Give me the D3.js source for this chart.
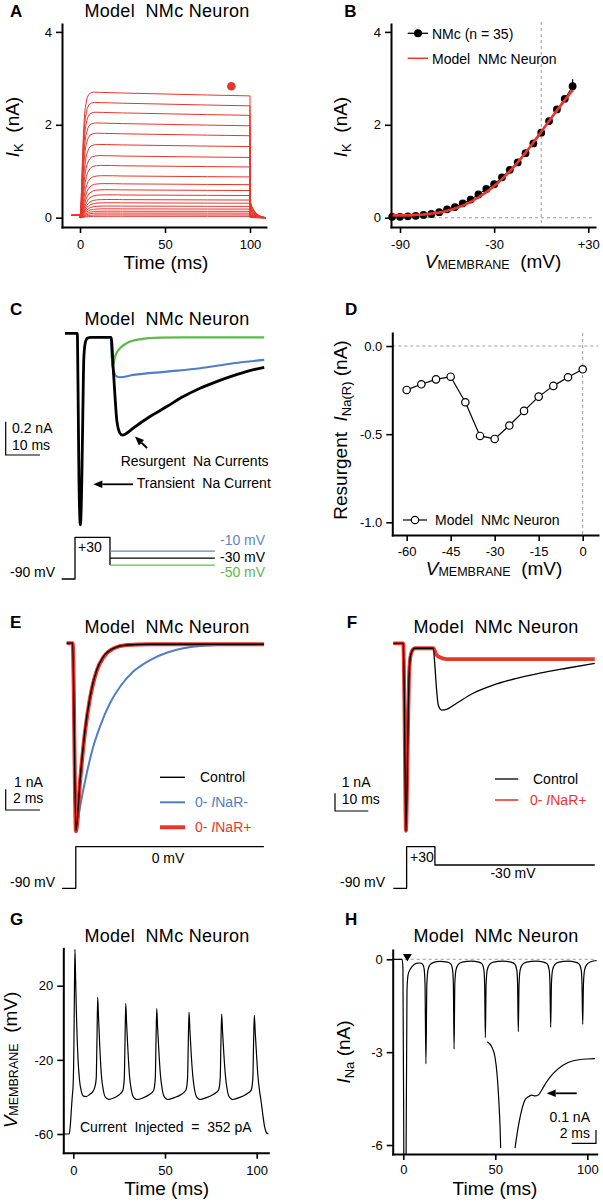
<!DOCTYPE html>
<html><head><meta charset="utf-8">
<script src="https://cdn.jsdelivr.net/npm/d3@7"></script>
<style>
body{margin:0;background:#fff}
svg{display:block;font-family:"Liberation Sans",Arial,Helvetica,sans-serif}
text{white-space:pre}
</style></head><body>
<svg id="fig" width="603" height="1202"></svg>
<script>
// ================= DATA =================
// Panel A : K+ current family (model)
const aTraceAmps = [2.69, 2.47, 2.26, 2.03, 1.81, 1.57, 1.33, 1.12, 0.90, 0.73, 0.60, 0.49, 0.39, 0.32, 0.25, 0.19, 0.14, 0.10, 0.06, 0.03];
const aTraceRise = [1.0, 1.05, 1.1, 1.15, 1.2, 1.3, 1.4, 1.5, 1.6, 1.7, 1.8, 1.9, 1.95, 2, 2, 2, 2, 2, 2, 2];
const aHoldTime = [-5, 0];
const aHoldCurrent = 0.05;
const aRiseTime  = [0, 0.5, 1, 1.5, 2, 2.5, 3, 4, 5, 6.5, 8, 12, 25, 50, 75, 100];
const aRiseShape = [0, 0.08, 0.28, 0.50, 0.67, 0.79, 0.87, 0.95, 0.985, 1.0, 1.005, 1.003, 0.998, 0.99, 0.982, 0.975];
const aTailTime  = [100, 100.4, 101, 102, 103.5, 105, 107, 109.4];
const aTailShape = [0.14, 0.12, 0.095, 0.065, 0.038, 0.02, 0.007, 0.0];
const aDotTime = [89], aDotCurrent = [2.83];
const aXTicks = [0, 50, 100], aYTicks = [0, 2, 4];

// Panel B : I-V
const bDataV = [-95,-90,-85,-80,-75,-70,-65,-60,-55,-50,-45,-40,-35,-30,-25,-20,-15,-10,-5,0,5,10,15,20];
const bDataI = [0.02,0.02,0.03,0.04,0.06,0.08,0.12,0.18,0.23,0.31,0.39,0.50,0.62,0.72,0.87,1.03,1.19,1.39,1.60,1.83,2.08,2.33,2.56,2.83];
const bErrV = [20], bErrLo = [2.70], bErrHi = [2.98];
const bModelV = [-95,-90,-85,-80,-75,-70,-65,-60,-55,-50,-45,-40,-35,-30,-25,-20,-15,-10,-5,0,5,10,15,20];
const bModelI = [0.05,0.05,0.05,0.06,0.07,0.09,0.11,0.15,0.20,0.26,0.34,0.44,0.55,0.68,0.83,1.00,1.19,1.40,1.62,1.85,2.08,2.31,2.53,2.75];
const bXTicks = [-90, -30, 30], bXTickLabels = ['-90', '-30', '+30'];
const bYTicks = [0, 2, 4];

// Panel C : resurgent Na currents
const cBlackT = [-3.6, 0, 0.2, 0.5, 0.9, 1.3, 1.6, 1.9, 2.3, 2.9, 4, 9.85, 10.5, 11.0, 11.5, 12.45, 13.2, 14.4, 16.3, 21.2, 26.1, 30.9, 35.8, 40.6, 45.5, 50.3, 54.5];
const cBlackI = [0, 0, -0.3, -0.9, -1.15, -0.9, -0.5, -0.15, -0.06, -0.03, -0.024, -0.024, -0.22, -0.38, -0.52, -0.60, -0.612, -0.60, -0.57, -0.50, -0.44, -0.38, -0.33, -0.29, -0.254, -0.224, -0.204];
const cGreenT = [9.85, 10.3, 11.0, 12.45, 14.4, 18.3, 24.1, 30.9, 54.5];
const cGreenI = [-0.024, -0.20, -0.14, -0.09, -0.06, -0.036, -0.026, -0.024, -0.024];
const cBlueT = [9.85, 10.3, 11.5, 12.45, 16.3, 26.1, 35.8, 45.5, 54.5];
const cBlueI = [-0.024, -0.20, -0.26, -0.264, -0.25, -0.23, -0.21, -0.18, -0.16];
const cProtoT = [-4.55, -0.67, -0.67, 9.53, 9.53];
const cProtoV = [-90, -90, 30, 30, -50];
const cStepEnd = 40.1;
const cStepLevels = [-10, -30, -50];
const cStepLabels = ['-10 mV', '-30 mV', '-50 mV'];

// Panel D : resurgent current vs voltage
const dV = [-60,-55,-50,-45,-40,-35,-30,-25,-20,-15,-10,-5,0];
const dI = [-0.249,-0.217,-0.189,-0.174,-0.319,-0.510,-0.527,-0.451,-0.368,-0.287,-0.226,-0.177,-0.132];
const dXTicks = [-60,-45,-30,-15,0];
const dYTicks = [0,-0.5,-1.0], dYTickLabels = ['0.0','-0.5','-1.0'];

// Panel E : transient currents at 0 mV
const eCtrlT = [-0.35, 0, 0.19, 0.43, 0.72, 1.01, 1.40, 1.79, 2.37, 3.15, 4.5, 11.15];
const eCtrlI = [0.05, 0.05, -8.88, -6.46, -4.08, -2.50, -1.22, -0.59, -0.19, -0.03, 0, 0];
const ePlusI = [0.05, 0.05, -8.90, -6.52, -4.15, -2.56, -1.26, -0.62, -0.20, -0.035, 0, 0];
const eMinusT = [-0.35, 0, 0.19, 0.43, 0.82, 1.20, 1.59, 2.17, 2.76, 3.53, 4.51, 5.48, 6.45, 7.42, 8.40, 11.17];
const eMinusI = [0.05, 0.05, -8.88, -7.73, -6.14, -4.87, -3.92, -2.81, -2.02, -1.30, -0.75, -0.40, -0.19, -0.08, -0.03, 0];
const eProtoT = [-0.62, 0.18, 0.18, 11.15];
const eProtoV = [-90, -90, 0, 0];

// Panel F : resurgent protocol, control vs 0-INaR+
const fCtrlT = [-3, 0, 0.3, 0.8, 1.3, 1.7, 2.1, 2.7, 3.5, 9.0, 9.5, 10.0, 10.5, 11.5, 13.0, 16.0, 21.0, 27.0, 34.0, 41.0, 49.0, 57.5];
const fCtrlI = [0, 0, -3, -10.6, -6, -2, -0.8, -0.4, -0.28, -0.28, -1.32, -2.64, -3.49, -3.77, -3.73, -3.39, -2.82, -2.36, -1.98, -1.69, -1.41, -1.13];
const fPlusT = [-3, 0, 0.3, 0.8, 1.3, 1.7, 2.1, 2.7, 3.5, 9.0, 10.0, 11.0, 13.0, 57.5];
const fPlusI = [0, 0, -3, -10.6, -6, -2, -0.8, -0.4, -0.28, -0.28, -0.66, -0.79, -0.89, -0.89];
const fProtoT = [-3, 1.0, 1.0, 9.5, 9.5, 57.5];
const fProtoV = [-90, -90, 30, 30, -30, -30];

// Panel G : repetitive firing
const gTime = [-5.5,-2.2,-1.6,-1.0,-0.5,-0.1,0.3,0.6,0.9,1.3,1.9,2.6,3.4,4.4,5.6,7,9,10.7,11.8,12.5,
  12.9,13.3,13.8,14.5,15.3,16.3,17.6,19.3,22,25,27,27.8,
  28.2,28.6,29.1,29.8,30.6,31.6,32.9,34.6,38,41.5,43.8,44.7,
  45.1,45.5,46.0,46.7,47.5,48.5,49.8,51.5,55,59,61.4,62.3,
  62.7,63.1,63.6,64.3,65.1,66.1,67.4,69.1,72.5,76.5,79.2,80.1,
  80.5,80.9,81.4,82.1,82.9,83.9,85.2,86.9,90.3,94.3,97,97.9,
  98.3,98.7,99.2,99.9,100.7,101.6,102.5,103.4,104.3,105.3,106.3];
const gVolt = [-60,-60,-55,-46,-39,-34,-15,15,39.6,22,-2,-20,-31,-37,-39.6,-39.8,-38.6,-37,-34.5,-30,
  -10,13.7,2,-14,-28,-36,-40.3,-41.3,-40.6,-38.8,-36.5,-30,
  -10,10.5,-1,-15,-28,-36,-40.3,-41.4,-40.5,-38.7,-36.5,-30,
  -10,7.6,-3,-16,-28,-36,-40.3,-41.4,-40.4,-38.5,-36.3,-30,
  -11,5.8,-4,-17,-28,-36,-40.3,-41.4,-40.4,-38.5,-36.3,-30,
  -11,4.7,-5,-17,-28,-36,-40.3,-41.4,-40.4,-38.5,-36.3,-30,
  -11,4.0,-5,-17,-29,-37,-43,-50,-56,-59.3,-60];
const gXTicks = [0, 50, 100], gYTicks = [20, -20, -60];

// Panel H : Na current during firing
const hTime = [-5.7,-0.6,-0.2,0.4,0.9,1.4,2.0,2.6,3.5,5,7,9,10.5,11.3,11.8,12.3,12.8,13.4,14.5,16.5,20,24,
  25.8,26.8,27.2,27.6,28.0,28.6,29.8,32,37,41,
  42.8,43.8,44.2,44.6,45.0,45.6,46.8,49,54,58.5,
  60.5,61.7,62.1,62.5,62.9,63.5,64.7,67,72,76.3,
  78.2,79.3,79.7,80.1,80.5,81.1,82.3,84.5,89.5,93.5,
  95.5,96.7,97.1,97.5,97.9,98.5,99.7,102,105.1];
const hCurrent = [0,0,-0.3,-8,-12,-8,-1.0,-0.5,-0.35,-0.22,-0.13,-0.12,-0.16,-0.3,-0.8,-3.38,-0.8,-0.35,-0.18,-0.1,-0.07,-0.09,
  -0.15,-0.35,-0.8,-2.90,-0.8,-0.35,-0.17,-0.09,-0.06,-0.09,
  -0.15,-0.35,-0.8,-2.53,-0.8,-0.35,-0.17,-0.09,-0.06,-0.09,
  -0.15,-0.35,-0.8,-2.34,-0.8,-0.35,-0.17,-0.09,-0.06,-0.09,
  -0.15,-0.35,-0.8,-2.20,-0.8,-0.35,-0.17,-0.09,-0.06,-0.09,
  -0.15,-0.35,-0.8,-2.10,-0.8,-0.35,-0.17,-0.08,-0.04];
const hMarkTime = [2.2], hMarkCurrent = [0.09];
const hInsetAT = [0, 0.36, 0.63, 0.82, 0.96, 1.05, 1.10];
const hInsetAI = [0, -0.038, -0.113, -0.263, -0.463, -0.639, -0.80];
const hInsetBT = [2.28, 2.55, 2.83, 3.10, 3.37, 3.65, 3.93, 4.20, 4.48, 4.89, 5.43, 6.26, 7.08, 8.18, 8.86];
const hInsetBI = [-0.80, -0.639, -0.514, -0.438, -0.414, -0.401, -0.408, -0.401, -0.363, -0.301, -0.238, -0.175, -0.143, -0.130, -0.128];
const hXTicks = [0, 50, 100], hYTicks = [0, -3, -6];

// ================= DRAWING =================
const FONT = '"Liberation Sans",Arial,Helvetica,sans-serif';
const RED = '#e8362c', BLUE = '#4f7ec6', GREEN = '#5cba4a';
const svg = d3.select('#fig');

function trace(xs, ys, sx, sy, o = {}) {
  const pts = xs.map((t, i) => [t, ys[i]]);
  const gen = d3.line().x(d => sx(d[0])).y(d => sy(d[1])).curve(o.curve || d3.curveMonotoneX);
  const p = (o.parent || svg).append('path').attr('d', gen(pts)).attr('fill', 'none')
    .attr('stroke', o.color || '#000').attr('stroke-width', o.width || 1)
    .attr('stroke-linejoin', 'round').attr('stroke-linecap', o.cap || 'butt');
  if (o.dash) p.attr('stroke-dasharray', o.dash);
  return p;
}
function styleAxis(g) {
  g.attr('font-family', FONT).attr('font-size', 13);
  g.select('.domain').attr('stroke', '#000').attr('stroke-width', 2).attr('stroke-linecap', 'square');
  g.selectAll('.tick line').attr('stroke', '#000').attr('stroke-width', 1.6);
  g.selectAll('.tick text').attr('fill', '#000');
}
function yAxis(x0, sy, ticks, labels, pad = 4) {
  const ax = d3.axisLeft(sy).tickValues(ticks).tickFormat((d, i) => labels ? labels[i] : d)
    .tickSizeInner(6).tickSizeOuter(0).tickPadding(pad);
  styleAxis(svg.append('g').attr('transform', `translate(${x0},0)`).call(ax));
}
function xAxis(y0, sx, ticks, labels, pad = 6) {
  const ax = d3.axisBottom(sx).tickValues(ticks).tickFormat((d, i) => labels ? labels[i] : d)
    .tickSizeInner(6).tickSizeOuter(0).tickPadding(pad);
  styleAxis(svg.append('g').attr('transform', `translate(0,${y0})`).call(ax));
}
function txt(x, y, s, o = {}) {
  const t = svg.append('text').attr('x', x).attr('y', y).attr('font-size', o.size || 14)
    .attr('text-anchor', o.anchor || 'start').attr('fill', o.color || '#000').text(s);
  if (o.weight) t.attr('font-weight', o.weight);
  if (o.ls) t.attr('letter-spacing', o.ls);
  return t;
}
function rich(x, y, parts, o = {}) {
  const t = svg.append('text')
    .attr('transform', `translate(${x},${y})` + (o.rotate ? ' rotate(-90)' : ''))
    .attr('text-anchor', o.anchor || 'middle').attr('font-size', o.size || 19).attr('fill', o.color || '#000');
  parts.forEach(p => {
    const ts = t.append('tspan').text(p.t);
    if (p.i) ts.attr('font-style', 'italic');
    if (p.s) ts.attr('font-size', p.s);
    if (p.dy) ts.attr('dy', p.dy);
  });
  return t;
}
function title(x, y) { txt(x, y, 'Model  NMc Neuron', {size: 18, anchor: 'middle', ls: 0.3}); }
function letter(x, y, s) { txt(x, y, s, {size: 17, weight: 'bold'}); }
function arrow(x1, y1, x2, y2, hl = 9, hw = 7.5) {
  const dx = x2 - x1, dy = y2 - y1, L = Math.hypot(dx, dy), ux = dx / L, uy = dy / L;
  const bx = x2 - ux * hl, by = y2 - uy * hl;
  svg.append('line').attr('x1', x1).attr('y1', y1).attr('x2', bx).attr('y2', by)
    .attr('stroke', '#000').attr('stroke-width', 1.8);
  svg.append('path').attr('d', `M${x2},${y2}L${bx - uy * hw / 2},${by + ux * hw / 2}L${bx + uy * hw / 2},${by - ux * hw / 2}Z`)
    .attr('fill', '#000');
}
function hline(x1, x2, y, o = {}) {
  const l = svg.append('line').attr('x1', x1).attr('x2', x2).attr('y1', y).attr('y2', y)
    .attr('stroke', o.color || '#000').attr('stroke-width', o.width || 1.3);
  if (o.dash) l.attr('stroke-dasharray', o.dash);
  return l;
}
function vline(x, y1, y2, o = {}) {
  const l = svg.append('line').attr('x1', x).attr('x2', x).attr('y1', y1).attr('y2', y2)
    .attr('stroke', o.color || '#000').attr('stroke-width', o.width || 1.3);
  if (o.dash) l.attr('stroke-dasharray', o.dash);
  return l;
}
function scaleBar(x0, yTop, yBot, xRight) {
  svg.append('path').attr('d', `M${x0},${yTop}V${yBot}H${xRight}`).attr('fill', 'none')
    .attr('stroke', '#000').attr('stroke-width', 1.2);
}
const DASH = '3,3', GRAY = '#9a9a9a';

// ---------- A ----------
{
  const x = d3.scaleLinear().domain([-10.59, 109.41]).range([62, 266]);
  const y = d3.scaleLinear().domain([-0.2, 4.17]).range([227, 24]);
  letter(10, 16.7, 'A');
  title(167, 16.5);
  const g = svg.append('g');
  aTraceAmps.forEach((amp, k) => {
    const s = aTraceRise[k];
    const ts = [aHoldTime[0], aHoldTime[1]], vs = [aHoldCurrent, aHoldCurrent];
    aRiseTime.forEach((t, i) => { ts.push(t <= 12 ? t * s : t); vs.push(amp * aRiseShape[i]); });
    aTailTime.forEach((t, i) => { ts.push(t); vs.push(amp * aTailShape[i]); });
    trace(ts, vs, x, y, {parent: g, color: RED, width: 1, curve: d3.curveLinear});
  });
  svg.selectAll(null).data(aDotTime).enter().append('circle')
    .attr('cx', (d, i) => x(d)).attr('cy', (d, i) => y(aDotCurrent[i])).attr('r', 4.3).attr('fill', RED);
  yAxis(62, y, aYTicks, null, 4);
  xAxis(227, x, aXTicks, null, 7);
  rich(18.5, 127, [{t: 'I', i: 1}, {t: 'K', s: 13, dy: 4}, {t: '  (nA)', dy: -4}], {rotate: true});
  txt(166, 268.5, 'Time (ms)', {size: 19, anchor: 'middle'});
}

// ---------- B ----------
{
  const x = d3.scaleLinear().domain([-95.74, 34.27]).range([391, 595]);
  const y = d3.scaleLinear().domain([-0.2, 4.17]).range([227, 24]);
  letter(344.3, 16.7, 'B');
  hline(391, 595, y(0), {color: GRAY, width: 1, dash: DASH});
  vline(x(0), 22, 227, {color: GRAY, width: 1, dash: DASH});
  trace(bDataV, bDataI, x, y, {color: '#000', width: 1, curve: d3.curveLinear});
  bErrV.forEach((v, i) => vline(x(v), y(bErrLo[i]), y(bErrHi[i]), {width: 1.2}));
  svg.selectAll(null).data(bDataV).enter().append('circle')
    .attr('cx', d => x(d)).attr('cy', (d, i) => y(bDataI[i])).attr('r', 3.9).attr('fill', '#000');
  trace(bModelV, bModelI, x, y, {color: RED, width: 2.6});
  yAxis(391, y, bYTicks, null, 4);
  xAxis(227, x, bXTicks, bXTickLabels, 7);
  rich(347, 127, [{t: 'I', i: 1}, {t: 'K', s: 13, dy: 4}, {t: '  (nA)', dy: -4}], {rotate: true});
  rich(493, 268, [{t: 'V', i: 1}, {t: 'MEMBRANE', s: 12.5, dy: 1}, {t: '  (mV)', dy: -1}]);
  // legend
  hline(407.7, 428, 33.3, {width: 1.3});
  svg.append('circle').attr('cx', 418).attr('cy', 33.3).attr('r', 4).attr('fill', '#000');
  txt(432, 38.5, 'NMc (n = 35)');
  hline(407.7, 428, 58.3, {color: RED, width: 1.5});
  txt(432, 63.5, 'Model  NMc Neuron');
}

// ---------- C ----------
{
  const x = d3.scaleLinear().domain([0, 10]).range([77.3, 111.6]);
  const y = d3.scaleLinear().domain([0, -0.2]).range([333.3, 366.6]);
  letter(10, 315, 'C');
  title(167, 325);
  trace(cGreenT, cGreenI, x, y, {color: GREEN, width: 2.2});
  trace(cBlueT, cBlueI, x, y, {color: BLUE, width: 2.2});
  trace(cBlackT, cBlackI, x, y, {color: '#000', width: 2.8});
  scaleBar(5.7, 421.7, 455, 40);
  txt(12, 433.3, '0.2 nA');
  txt(12, 450, '10 ms');
  txt(120.7, 465.7, 'Resurgent  Na Currents');
  arrow(147, 448, 135, 436.5);
  txt(136.7, 488.3, 'Transient  Na Current');
  arrow(133, 484.3, 93.3, 484.3);
  // protocol
  const yp = d3.scaleLinear().domain([-90, 30]).range([579, 537.3]);
  trace(cProtoT, cProtoV, x, yp, {width: 1.3, curve: d3.curveLinear});
  const cols = ['#5f86c6', '#000', '#66bd55'];
  cStepLevels.forEach((v, i) => {
    hline(x(cProtoT[cProtoT.length - 1]), x(cStepEnd), yp(v), {color: cols[i], width: 1.3});
  });
  txt(10, 577, '-90 mV');
  txt(78, 551.7, '+30');
  txt(220, 545, cStepLabels[0], {color: '#5f86c6'});
  txt(220, 561.7, cStepLabels[1]);
  txt(220, 577, cStepLabels[2], {color: '#5cb94a'});
}

// ---------- D ----------
{
  const x = d3.scaleLinear().domain([-64.9, 5.22]).range([392.3, 598]);
  const y = d3.scaleLinear().domain([-1.072, 0.074]).range([535, 333]);
  letter(345, 315, 'D');
  hline(392.3, 598, y(0), {color: GRAY, width: 1, dash: DASH});
  vline(x(0), 333, 535, {color: GRAY, width: 1, dash: DASH});
  trace(dV, dI, x, y, {width: 1.2, curve: d3.curveLinear});
  svg.selectAll(null).data(dV).enter().append('circle')
    .attr('cx', d => x(d)).attr('cy', (d, i) => y(dI[i])).attr('r', 3.7)
    .attr('fill', '#fff').attr('stroke', '#000').attr('stroke-width', 1.2);
  yAxis(392.3, y, dYTicks, dYTickLabels, 4);
  xAxis(535, x, dXTicks, null, 6);
  rich(347, 430, [{t: 'Resurgent  '}, {t: 'I', i: 1}, {t: 'Na(R)', s: 13, dy: 4}, {t: ' (nA)', dy: -4}], {rotate: true});
  rich(494, 575, [{t: 'V', i: 1}, {t: 'MEMBRANE', s: 12.5, dy: 1}, {t: '  (mV)', dy: -1}]);
  hline(403, 427, 520, {width: 1.2});
  svg.append('circle').attr('cx', 415).attr('cy', 520).attr('r', 3.7).attr('fill', '#fff')
    .attr('stroke', '#000').attr('stroke-width', 1.2);
  txt(435, 524.5, 'Model  NMc Neuron');
}

// ---------- E ----------
{
  const x = d3.scaleLinear().domain([0, 2]).range([72.7, 107]);
  const y = d3.scaleLinear().domain([0, -1]).range([644.3, 665.3]);
  letter(10, 628.3, 'E');
  title(167, 633.3);
  trace(eMinusT, eMinusI, x, y, {color: BLUE, width: 2});
  trace(eCtrlT, ePlusI, x, y, {color: RED, width: 4});
  trace(eCtrlT, eCtrlI, x, y, {color: '#000', width: 1.4});
  scaleBar(5.7, 789.3, 810, 40);
  txt(14, 786.7, '1 nA');
  txt(13, 803.3, '2 ms');
  hline(160, 185, 777.3, {width: 1.4});
  hline(160, 185, 802.3, {color: BLUE, width: 2});
  hline(160, 185, 827.3, {color: RED, width: 4});
  txt(200, 782, 'Control');
  rich(195, 807, [{t: '0- '}, {t: 'I', i: 1}, {t: 'NaR-'}], {anchor: 'start', size: 14, color: BLUE});
  rich(195, 832, [{t: '0- '}, {t: 'I', i: 1}, {t: 'NaR+'}], {anchor: 'start', size: 14, color: RED});
  const yp = d3.scaleLinear().domain([-90, 0]).range([888.3, 846.7]);
  trace(eProtoT, eProtoV, x, yp, {width: 1.3, curve: d3.curveLinear});
  txt(10, 886.7, '-90 mV');
  txt(168, 863, '0 mV', {anchor: 'middle'});
}

// ---------- F ----------
{
  const x = d3.scaleLinear().domain([0, 10]).range([403.3, 436.6]);
  const y = d3.scaleLinear().domain([0, -1]).range([643.3, 661]);
  letter(346.7, 628.3, 'F');
  title(496, 633.3);
  trace(fPlusT, fPlusI, x, y, {color: RED, width: 3.8});
  trace(fCtrlT, fCtrlI, x, y, {color: '#000', width: 1.3});
  scaleBar(335, 793.3, 811, 368.3);
  txt(341.7, 786.7, '1 nA');
  txt(341.7, 804, '10 ms');
  hline(495, 518.3, 779, {width: 1.3});
  hline(495, 518.3, 800, {color: RED, width: 1.6});
  txt(533, 784, 'Control');
  rich(530, 805, [{t: '0- '}, {t: 'I', i: 1}, {t: 'NaR+'}], {anchor: 'start', size: 14, color: RED});
  const yp = d3.scaleLinear().domain([-90, -30, 30]).range([888.3, 865, 846.7]);
  trace(fProtoT, fProtoV, x, yp, {width: 1.3, curve: d3.curveLinear});
  txt(340, 886.7, '-90 mV');
  txt(410, 862, '+30');
  txt(513, 878.3, '-30 mV', {anchor: 'middle'});
}

// ---------- G ----------
{
  const x = d3.scaleLinear().domain([-5.45, 106.33]).range([63.3, 268.3]);
  const y = d3.scaleLinear().domain([-70.09, 40.19]).range([1152.7, 948.3]);
  letter(10, 925, 'G');
  title(167, 941.7);
  trace(gTime, gVolt, x, y, {width: 1.2});
  yAxis(63.3, y, gYTicks, null, 4);
  xAxis(1152.7, x, gXTicks, null, 7);
  rich(17, 1060, [{t: 'V', i: 1}, {t: 'MEMBRANE', s: 12.5, dy: 1}, {t: '  (mV)', dy: -1}], {rotate: true});
  txt(166.7, 1195, 'Time (ms)', {size: 19, anchor: 'middle'});
  txt(80, 1131.7, 'Current  Injected  =  352 pA');
}

// ---------- H ----------
{
  const x = d3.scaleLinear().domain([-5.76, 105.1]).range([392.7, 596.7]);
  const y = d3.scaleLinear().domain([-6.29, 0.30]).range([1154, 950]);
  letter(345, 925, 'H');
  title(496, 941.7);
  hline(392.7, 596.7, y(0), {color: GRAY, width: 1, dash: DASH});
  svg.append('clipPath').attr('id', 'clipH').append('rect')
    .attr('x', 392.7).attr('y', 948).attr('width', 206).attr('height', 1154 - 948);
  const gH = svg.append('g').attr('clip-path', 'url(#clipH)');
  trace(hTime, hCurrent, x, y, {width: 1.2, parent: gH});
  svg.selectAll(null).data(hMarkTime).enter().append('path')
    .attr('d', d3.symbol(d3.symbolTriangle, 34)())
    .attr('transform', (d, i) => `translate(${x(d)},${y(hMarkCurrent[i])}) rotate(180)`)
    .attr('fill', '#000');
  // inset (higher gain)
  const xi = d3.scaleLinear().domain([0, 2]).range([487.3, 511.6]);
  const yi = d3.scaleLinear().domain([0, -0.1]).range([1041.7, 1055]);
  trace(hInsetAT, hInsetAI, xi, yi, {width: 1.2});
  trace(hInsetBT, hInsetBI, xi, yi, {width: 1.2});
  arrow(576.7, 1093.3, 546.7, 1093.3);
  svg.append('path').attr('d', 'M571.7,1143.3H596V1130').attr('fill', 'none').attr('stroke', '#000').attr('stroke-width', 1.2);
  txt(590, 1121.7, '0.1 nA', {anchor: 'end'});
  txt(590, 1138.3, '2 ms', {anchor: 'end'});
  yAxis(392.7, y, hYTicks, null, 4);
  xAxis(1154, x, hXTicks, null, 5);
  rich(350, 1052, [{t: 'I', i: 1}, {t: 'Na', s: 13, dy: 4}, {t: ' (nA)', dy: -4}], {rotate: true});
  txt(495, 1195, 'Time (ms)', {size: 19, anchor: 'middle'});
}
</script></body></html>
